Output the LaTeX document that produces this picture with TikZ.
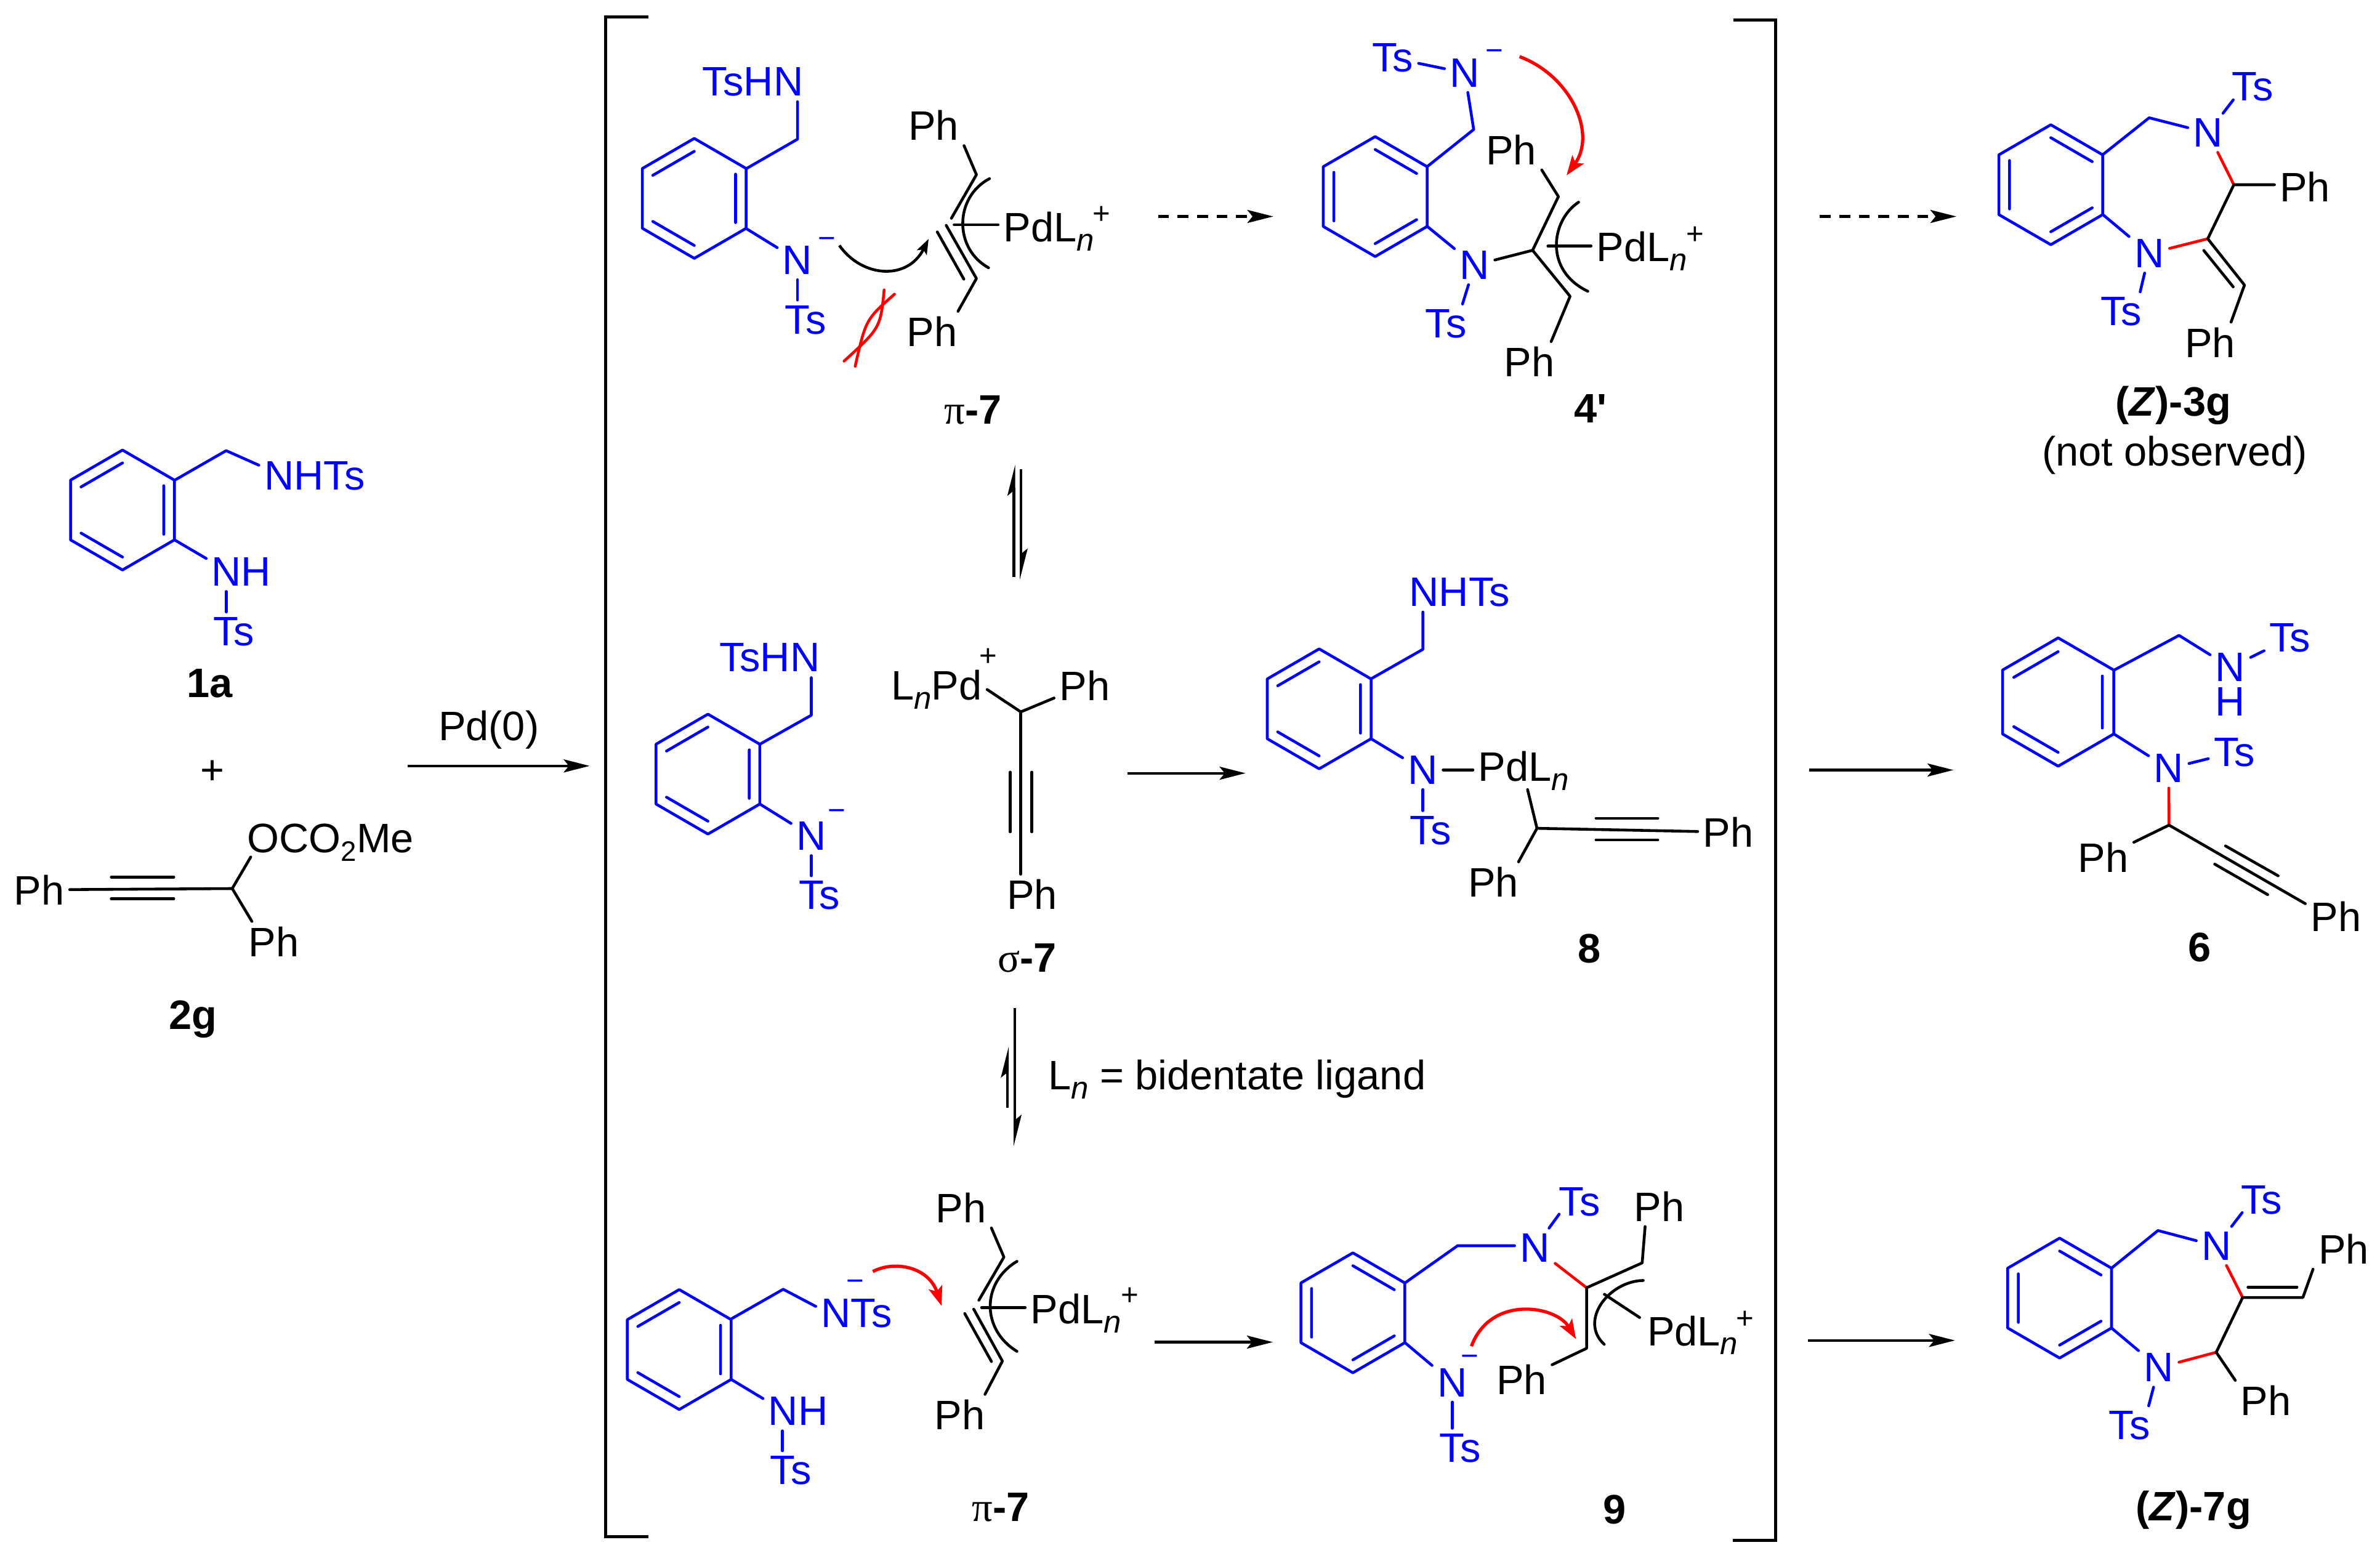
\documentclass[tikz,border=0pt]{standalone}
\usepackage{fontspec}
\setmainfont{Liberation Sans}
\newfontfamily\labfont{Liberation Sans}
\newfontfamily\grkfont{Liberation Serif}
\usetikzlibrary{arrows.meta,calc}

\tikzset{
  bk/.style={line width=1.3pt,line cap=round,line join=round},
  bblue/.style={bk,blue},
  bred/.style={bk,red},
  brk/.style={line width=1.4pt},
  atom/.style={inner sep=0pt,outer sep=2.5pt,font=\fontsize{19}{21}\selectfont},
  atomb/.style={atom,text=blue},
  pdn/.style={atom,anchor=base west},
  chg/.style={inner sep=0pt,font=\fontsize{14}{16}\selectfont,anchor=base,yshift=-3.9pt,text=blue},
  pls/.style={inner sep=0pt,font=\fontsize{14}{16}\selectfont},
  cpd/.style={inner sep=0pt,font=\labfont\fontsize{19}{21}\selectfont\bfseries},
  rxn/.style={line width=1.2pt,-{Stealth[length=12pt,width=6pt,inset=2.4pt]}},
  rxnd/.style={rxn,dash pattern=on 5pt off 4pt},
  eqh/.style={line width=1.2pt,-{Stealth[harpoon,length=12pt,width=6pt,inset=2.4pt]}},
  curl/.style={line width=1.3pt,-{Stealth[length=7pt,width=5pt,inset=1.5pt]}},
  curlr/.style={line width=1.5pt,red,-{Stealth[length=9pt,width=6.5pt,inset=2pt]}}
}

% benzene ring, inner bonds on the right or on the left
\newcommand{\ringA}[3][1]{\begin{scope}[shift={(#2,#3)},scale=#1]
  \draw[bblue] (0,-39.5) -- (34.2,-19.7) -- (34.2,19.7) -- (0,39.5) -- (-34.2,19.7) -- (-34.2,-19.7) -- cycle;
  \draw[bblue] (0,-31) -- (-27.3,-15.2) (27.2,-16) -- (27.2,16) (-27.3,15.2) -- (0,31);
\end{scope}}
\newcommand{\ringB}[3][1]{\begin{scope}[shift={(#2,#3)},scale=#1]
  \draw[bblue] (0,-39.5) -- (34.2,-19.7) -- (34.2,19.7) -- (0,39.5) -- (-34.2,19.7) -- (-34.2,-19.7) -- cycle;
  \draw[bblue] (0,-31) -- (27.3,-15.2) (-27.2,-16) -- (-27.2,16) (27.3,15.2) -- (0,31);
\end{scope}}
\newcommand{\subn}{\raisebox{-4.2pt}{\fontsize{14.5}{16}\selectfont\textit{n}}}
\newcommand{\PdLn}{PdL\subn}

\begin{document}
\begin{tikzpicture}[x=0.02465cm,y=-0.02465cm]
  \useasboundingbox (0,0) rectangle (1568,1022.76);

  % Brackets
  \coordinate (lb1) at (427.3,11); \coordinate (lb2) at (399,11);
  \coordinate (lb3) at (399,1012.5); \coordinate (lb4) at (427.3,1012.5);
  \coordinate (rb1) at (1142,13); \coordinate (rb2) at (1169.7,13);
  \coordinate (rb3) at (1169.7,1014.8); \coordinate (rb4) at (1141.7,1014.8);
  \draw[brk] (lb1) -- (lb2) -- (lb3) -- (lb4);
  \draw[brk] (rb1) -- (rb2) -- (rb3) -- (rb4);

  % Reactant 1a
  \ringA{80.7}{336}
  \node[atomb] (nhts2) at (207.2,313.6) {NHTs};
  \node[atomb] (nh2) at (159,376.8) {NH};
  \node[atomb] (ts15) at (154.1,416.2) {Ts};
  \node[cpd] (lab1a) at (138.2,450.3) {1a};
  \coordinate (c10a) at (115.2,316.3); \coordinate (c10b) at (115.2,355.8);
  \coordinate (c10c) at (149,296.9); \coordinate (e10) at (149,395);
  \draw[bblue] (c10a) -- (c10c) -- (nhts2.169);
  \draw[bblue] (c10b) -- (nh2.159);
  \draw[bblue] (e10 |- nh2.south) -- (e10 |- ts15.north);
  \node[atom] (plus0) at (140,508.7) {+};

  % Reactant 2g
  \node[atom] (ph19) at (25.8,586.2) {Ph};
  \node[atom] (ph20) at (180.3,620.4) {Ph};
  \node[atom,anchor=base west] (oco) at (159.4,561.7) {OCO\raisebox{-4pt}{\fontsize{13}{14}\selectfont 2}Me};
  \node[cpd] (lab2g) at (127.3,671.5) {2g};
  \coordinate (a11a) at (153,585.4); \coordinate (e11) at (165.2,564.6);
  \coordinate (s11a) at (73.3,577.8); \coordinate (s11b) at (114.5,577.8);
  \coordinate (s11c) at (73.3,592.1); \coordinate (s11d) at (114.5,592.1);
  \draw[bk] (ph19) -- (a11a) -- (e11);
  \draw[bk] (a11a) -- (ph20.137);
  \draw[bk] (s11a) -- (s11b) (s11c) -- (s11d);

  % Pd(0) arrow
  \node[atom] (pd0) at (322,481) {Pd(0)};
  \coordinate (ar0a) at (268.6,504.6); \coordinate (ar0b) at (388.5,504.6);
  \draw[rxn] (ar0a) -- (ar0b);

  % Top row: pi-7
  \ringA{457.4}{130.7}
  \node[atomb] (tshn1) at (496,54) {TsHN};
  \node[atomb] (n1) at (525.4,171.4) {N};
  \node[chg] (m1) at (544.7,158) {−};
  \node[atomb] (ts1) at (530.8,210.7) {Ts};
  \node[atom] (ph1) at (615,82.6) {Ph};
  \node[atom] (ph2) at (614,218.5) {Ph};
  \node[pdn] (pd1) at (657.6,159.3) {\PdLn};
  \node[pls] (pl1) at (725.6,141.6) {+};
  \node[cpd] (lab1) at (641,270) {{\grkfont\mdseries π}-7};
  \coordinate (c1a) at (491.5,111.2); \coordinate (c1b) at (491.5,150.5);
  \coordinate (c1c) at (525.4,91.7);
  \coordinate (a1a) at (643.3,115.1); \coordinate (a1b) at (626.8,143.8);
  \coordinate (a1c) at (623.4,148.5); \coordinate (a1d) at (643.3,183.5);
  \coordinate (s1a) at (617.5,152.8); \coordinate (s1b) at (635,183.9);
  \coordinate (p1) at (628.6,148.1);
  \draw[bblue] (c1a) -- (c1c) -- (tshn1.south -| c1c);
  \draw[bblue] (c1b) -- (n1);
  \draw[bblue] (n1) -- (n1 |- ts1.north);
  \draw[bk] (ph1.south east) -- (a1a) -- (a1b);
  \draw[bk] (a1c) -- (a1d) -- (ph2.38);
  \draw[bk] (s1a) -- (s1b);
  \draw[bk] (651.9,117.7) .. controls (628.5,130) and (628.5,164) .. (651.3,176.4);
  \draw[bk] (p1) -- (p1 -| pd1.west);
  % electron arrow and the crossed out approach
  \coordinate (t1a) at (553,161.7); \coordinate (t1b) at (611.8,157.4);
  \draw[curl] (t1a) .. controls (568,183) and (598,185) .. (t1b);
  \draw[bred] (589.3,193.8) .. controls (570.4,210.5) .. (563.4,241.3);
  \draw[bred] (582.5,191) .. controls (580,216) .. (556.1,237.9);

  % Top row: 4'
  \ringB{906}{129.5}
  \node[atomb] (ts2) at (917.5,38.2) {Ts};
  \node[atomb] (n2) at (965,48) {N};
  \node[chg] (m2) at (984.5,34.3) {−};
  \node[atomb] (n3) at (971.5,174.7) {N};
  \node[atomb] (ts3) at (952.6,213.3) {Ts};
  \node[atom] (ph3) at (995.6,98.6) {Ph};
  \node[atom] (ph4) at (1007.6,238.4) {Ph};
  \node[pdn] (pd2) at (1048.2,172.3) {\PdLn};
  \node[pls] (pl2) at (1116.8,155) {+};
  \node[cpd] (lab2) at (1048,269) {4'};
  \coordinate (c2a) at (940.1,109.9); \coordinate (c2b) at (940.1,149);
  \coordinate (c2c) at (970.9,85.3);
  \coordinate (a2a) at (1026.7,129.5); \coordinate (a2b) at (1009.7,164.9);
  \coordinate (a2c) at (1034.4,195.2); \coordinate (p2) at (1019.8,162.1);
  \draw[bblue] (ts2) -- (n2);
  \draw[bblue] (c2a) -- (c2c) -- (n2);
  \draw[bblue] (c2b) -- (n3);
  \draw[bblue] (n3) -- (ts3.50);
  \draw[bk] (n3) -- (a2b);
  \draw[bk] (ph3.south east) -- (a2a) -- (a2b) -- (a2c) -- (ph4.43);
  \draw[bk] (1040,133.2) .. controls (1022,145) and (1017,178) .. (1046.1,191.9);
  \draw[bk] (p2) -- (p2 -| pd2.west);
  \coordinate (t2a) at (1001.1,37.3); \coordinate (t2b) at (1032.1,115.5);
  \draw[curlr] (t2a) .. controls (1035,50) and (1052,88) .. (t2b);

  % Top row: (Z)-3g
  \ringB{1351.1}{121.7}
  \node[atomb] (n4) at (1454.7,87.5) {N};
  \node[atomb] (n5) at (1416,167) {N};
  \node[atomb] (ts4) at (1484,57.3) {Ts};
  \node[atomb] (ts5) at (1397.4,205.3) {Ts};
  \node[atom] (ph5) at (1518.6,123) {Ph};
  \node[atom] (ph6) at (1456,225.6) {Ph};
  \node[cpd] (lab3) at (1431.8,267) {(\textit{Z})-3g};
  \node[atom] (nobs) at (1432.7,299.7) {(not observed)};
  \coordinate (c3a) at (1385.2,102); \coordinate (c3b) at (1385.2,141.2);
  \coordinate (c3c) at (1415.9,77.6); \coordinate (e3) at (1471.3,65.8);
  \coordinate (a3a) at (1471.7,121.7); \coordinate (a3b) at (1454.5,157.3);
  \coordinate (a3c) at (1478.7,187.8);
  \coordinate (s3a) at (1451.9,165); \coordinate (s3b) at (1471.3,189);
  \draw[bblue] (c3a) -- (c3c) -- (n4);
  \draw[bblue] (c3b) -- (n5);
  \draw[bblue] (n4) -- (e3);
  \draw[bblue] (n5) -- (ts5.46);
  \draw[bred] (n4) -- (a3a);
  \draw[bred] (a3b) -- (n5);
  \draw[bk] (a3a -| ph5.west) -- (a3a) -- (a3b) -- (a3c) -- (ph6.44);
  \draw[bk] (s3a) -- (s3b);

  % Top row arrows
  \coordinate (ar1a) at (763,142.6); \coordinate (ar1b) at (838.9,142.6);
  \coordinate (ar2a) at (1199,142.6); \coordinate (ar2b) at (1288.9,142.6);
  \draw[rxnd] (ar1a) -- (ar1b);
  \draw[rxnd] (ar2a) -- (ar2b);

  % Equilibrium arrows
  \coordinate (eq1a) at (668,380); \coordinate (eq1b) at (668,306);
  \coordinate (eq2a) at (672.7,309); \coordinate (eq2b) at (672.7,382);
  \coordinate (eq3a) at (668.7,664); \coordinate (eq3b) at (668.7,755);
  \coordinate (eq4a) at (663.7,729.7); \coordinate (eq4b) at (663.7,689.4);
  \draw[eqh] (eq1a) -- (eq1b);
  \draw[eqh] (eq2a) -- (eq2b);
  \draw[eqh] (eq3a) -- (eq3b);
  \draw[eqh] (eq4a) -- (eq4b);
  \node[atom,anchor=base west,outer sep=0pt] (lig) at (690.5,718) {L\subn{} = bidentate ligand};

  % Middle row: sigma-7
  \ringA{466.4}{510}
  \node[atomb] (tshn2) at (507,433.4) {TsHN};
  \node[atomb] (n6) at (534.5,550.8) {N};
  \node[chg] (m6) at (551.2,534.9) {−};
  \node[atomb] (ts6) at (539.8,590) {Ts};
  \node[pdn] (lnpd) at (583.5,461.1) {L\subn{}Pd};
  \node[pls] (pl3) at (651,432.8) {+};
  \node[atom] (ph7) at (714.6,451.5) {Ph};
  \node[atom] (ph8) at (680,589.3) {Ph};
  \node[cpd] (lab4) at (676.7,631) {{\grkfont\mdseries σ}-7};
  \coordinate (c4a) at (500.6,490.3); \coordinate (c4b) at (500.6,529.7);
  \coordinate (c4c) at (534.5,471.2); \coordinate (a4a) at (672.5,469);
  \coordinate (s4a) at (665.6,508.7); \coordinate (s4b) at (665.6,548);
  \coordinate (s4c) at (679.8,508.7); \coordinate (s4d) at (679.8,548);
  \draw[bblue] (c4a) -- (c4c) -- (c4c |- tshn2.south);
  \draw[bblue] (c4b) -- (n6);
  \draw[bblue] (n6) -- (n6 |- ts6.north);
  \draw[bk] (lnpd.east) -- (a4a) -- (ph7);
  \draw[bk] (a4a) -- (a4a |- ph8.north);
  \draw[bk] (s4a) -- (s4b) (s4c) -- (s4d);

  % Middle row: 8
  \ringA{869.1}{467}
  \node[atomb] (nhts1) at (961.6,390.2) {NHTs};
  \node[atomb] (n7) at (937.4,507.3) {N};
  \node[atomb] (ts7) at (942.5,547.1) {Ts};
  \node[pdn] (pd3) at (970.4,514.7) {\PdLn};
  \node[atom] (ph9) at (983.9,581.2) {Ph};
  \node[atom] (ph10) at (1138.6,548.2) {Ph};
  \node[cpd] (lab5) at (1047.3,624.8) {8};
  \coordinate (c5a) at (903.3,447.2); \coordinate (c5b) at (903.3,486.7);
  \coordinate (c5c) at (937.4,427.8); \coordinate (a5a) at (1012.6,545.7);
  \coordinate (e5) at (1006.4,520.2);
  \coordinate (s5a) at (1051.5,539.1); \coordinate (s5b) at (1092.2,539.1);
  \coordinate (s5c) at (1051.5,553.4); \coordinate (s5d) at (1092.2,553.4);
  \draw[bblue] (c5a) -- (c5c) -- (c5c |- nhts1.south);
  \draw[bblue] (c5b) -- (n7);
  \draw[bblue] (n7) -- (n7 |- ts7.north);
  \draw[bk] (n7) -- (n7 -| pd3.west);
  \draw[bk] (e5) -- (a5a) -- (ph9.39);
  \draw[bk] (a5a) -- (ph10);
  \draw[bk] (s5a) -- (s5b) (s5c) -- (s5d);

  % Middle row: 6
  \ringA[1.07]{1355.95}{462.5}
  \node[atomb] (n8) at (1469.4,439.7) {N};
  \node[atomb] (h1) at (1469.4,462.3) {H};
  \node[atomb] (ts8) at (1508.7,420.3) {Ts};
  \node[atomb] (n9) at (1428.8,506.3) {N};
  \node[atomb] (ts9) at (1472,495.6) {Ts};
  \node[atom] (ph11) at (1385.7,564.7) {Ph};
  \node[atom] (ph12) at (1538.9,603.9) {Ph};
  \node[cpd] (lab6) at (1449.1,624.1) {6};
  \coordinate (c6a) at (1392.6,441.6); \coordinate (c6b) at (1392.6,483.5);
  \coordinate (c6c) at (1435.6,418.6); \coordinate (a6a) at (1429,543.6);
  \coordinate (s6a) at (1466.2,557.3); \coordinate (s6b) at (1500.9,577);
  \coordinate (s6c) at (1459.1,569.3); \coordinate (s6d) at (1494,589.4);
  \draw[bblue] (c6a) -- (c6c) -- (n8);
  \draw[bblue] (n8) -- (ts8);
  \draw[bblue] (c6b) -- (n9);
  \draw[bblue] (n9) -- (ts9);
  \draw[bred] (n9) -- (a6a);
  \draw[bk] (ph11) -- (a6a) -- (ph12.157);
  \draw[bk] (s6a) -- (s6b) (s6c) -- (s6d);

  % Middle row arrows
  \coordinate (ar3a) at (742.8,509.4); \coordinate (ar3b) at (820.6,509.4);
  \coordinate (ar4a) at (1192,507.3); \coordinate (ar4b) at (1287,507.3);
  \draw[rxn] (ar3a) -- (ar3b);
  \draw[rxn] (ar4a) -- (ar4b);

  % Bottom row: pi-7
  \ringA{447.5}{889.1}
  \node[atomb] (nts1) at (564.3,865.4) {NTs};
  \node[chg] (m7) at (563.4,844.9) {−};
  \node[atomb] (nh1) at (525.8,929.8) {NH};
  \node[atomb] (ts10) at (521,968.8) {Ts};
  \node[atom] (ph13) at (633,795.6) {Ph};
  \node[atom] (ph14) at (632.4,932) {Ph};
  \node[pdn] (pd4) at (675.4,872.2) {\PdLn};
  \node[pls] (pl4) at (744.2,854.2) {+};
  \node[cpd] (lab7) at (659.3,993) {{\grkfont\mdseries π}-7};
  \coordinate (c7a) at (481.6,869); \coordinate (c7b) at (481.6,908.7);
  \coordinate (c7c) at (516,849.4); \coordinate (e7) at (515.5,950);
  \coordinate (a7a) at (661.4,828.2); \coordinate (a7b) at (644.9,856.6);
  \coordinate (a7c) at (641.5,862.5); \coordinate (a7d) at (660.4,896.7);
  \coordinate (s7a) at (635.6,865.4); \coordinate (s7b) at (653.2,897);
  \coordinate (p7) at (646.7,861.4);
  \draw[bblue] (c7a) -- (c7c) -- (nts1.170);
  \draw[bblue] (c7b) -- (nh1.160);
  \draw[bblue] (e7 |- nh1.south) -- (e7 |- ts10.north);
  \draw[bk] (ph13.south east) -- (a7a) -- (a7b);
  \draw[bk] (a7c) -- (a7d) -- (ph14.39);
  \draw[bk] (s7a) -- (s7b);
  \draw[bk] (670,831) .. controls (646.5,845) and (646.5,876) .. (670,890.3);
  \draw[bk] (p7) -- (p7 -| pd4.west);
  \coordinate (t7a) at (575,837.7); \coordinate (t7b) at (620.3,860.3);
  \draw[curlr] (t7a) .. controls (590,830) and (612,835) .. (t7b);

  % Bottom row: 9
  \ringB{891.3}{864.9}
  \node[atomb] (n10) at (1011.2,822) {N};
  \node[atomb] (ts11) at (1040.6,791.7) {Ts};
  \node[atom] (ph15) at (1093.2,794.7) {Ph};
  \node[atom] (ph16) at (1002.4,908.7) {Ph};
  \node[pdn] (pd5) at (1081.7,886.5) {\PdLn};
  \node[pls] (pl5) at (1149.8,869.4) {+};
  \node[atomb] (n11) at (956.8,910.8) {N};
  \node[chg] (m8) at (968.4,894.3) {−};
  \node[atomb] (ts12) at (962,954) {Ts};
  \node[cpd] (lab8) at (1063.7,994.5) {9};
  \coordinate (c8a) at (925.9,845); \coordinate (c8b) at (925.9,884.8);
  \coordinate (c8c) at (960.3,820.7); \coordinate (e8) at (1027.2,799.9);
  \coordinate (a8a) at (1045.3,848.4); \coordinate (a8b) at (1081.9,832);
  \coordinate (a8c) at (1045.3,888.3);
  \coordinate (p8a) at (1057,852.7); \coordinate (p8b) at (1080.2,868);
  \draw[bblue] (c8a) -- (c8c) -- (c8c -| n10.west);
  \draw[bblue] (n10) -- (e8);
  \draw[bblue] (c8b) -- (n11);
  \draw[bblue] (n11) -- (n11 |- ts12.north);
  \draw[bred] (n10) -- (a8a);
  \draw[bk] (ph15.235) -- (a8b) -- (a8a) -- (a8c) -- (ph16);
  \draw[bk] (1082.6,843.6) .. controls (1060,844) and (1040,870) .. (1056.9,885.7);
  \draw[bk] (p8a) -- (p8b);
  \coordinate (t8a) at (969.4,886.9); \coordinate (t8b) at (1038.3,882.2);
  \draw[curlr] (t8a) .. controls (982,853) and (1025,860) .. (t8b);

  % Bottom row: (Z)-7g
  \ringB{1356.9}{855.2}
  \node[atomb] (n12) at (1460.3,820.9) {N};
  \node[atomb] (n13) at (1422.2,901) {N};
  \node[atomb] (ts13) at (1490,790.6) {Ts};
  \node[atomb] (ts14) at (1403,939.2) {Ts};
  \node[atom] (ph17) at (1544,822.8) {Ph};
  \node[atom] (ph18) at (1492.8,922.8) {Ph};
  \node[cpd] (lab9) at (1445.1,994.8) {(\textit{Z})-7g};
  \coordinate (c9a) at (1391.2,835.4); \coordinate (c9b) at (1391.2,875);
  \coordinate (c9c) at (1421.7,810.7); \coordinate (e9) at (1477.2,798.9);
  \coordinate (a9a) at (1477.5,854.8); \coordinate (a9b) at (1517.2,854.8);
  \coordinate (a9c) at (1460.1,890.9);
  \coordinate (s9a) at (1481,848); \coordinate (s9b) at (1513.3,848);
  \draw[bblue] (c9a) -- (c9c) -- (n12);
  \draw[bblue] (n12) -- (e9);
  \draw[bblue] (c9b) -- (n13);
  \draw[bblue] (n13) -- (ts14.46);
  \draw[bred] (n12) -- (a9a);
  \draw[bred] (a9c) -- (n13);
  \draw[bk] (a9c) -- (a9a) -- (a9b) -- (ph17.south west);
  \draw[bk] (a9c) -- (ph18.north west);
  \draw[bk] (s9a) -- (s9b);

  % Bottom row arrows
  \coordinate (ar5a) at (760.5,884.2); \coordinate (ar5b) at (838.6,884.2);
  \coordinate (ar6a) at (1191.3,883.1); \coordinate (ar6b) at (1288,883.1);
  \draw[rxn] (ar5a) -- (ar5b);
  \draw[rxn] (ar6a) -- (ar6b);
\end{tikzpicture}
\end{document}
